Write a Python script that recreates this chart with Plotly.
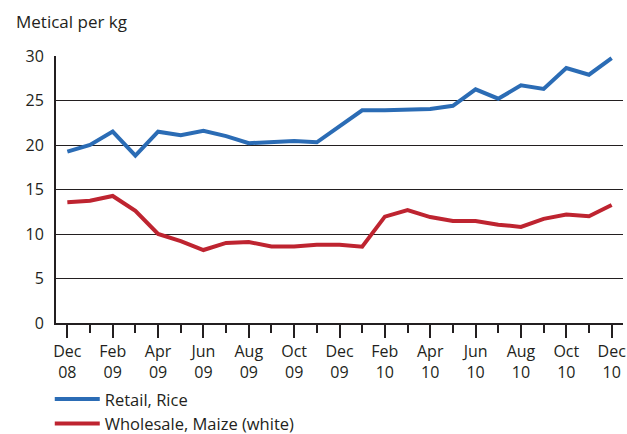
import plotly.graph_objects as go

months = ["Dec 08", "Jan 09", "Feb 09", "Mar 09", "Apr 09", "May 09", "Jun 09",
          "Jul 09", "Aug 09", "Sep 09", "Oct 09", "Nov 09", "Dec 09", "Jan 10",
          "Feb 10", "Mar 10", "Apr 10", "May 10", "Jun 10", "Jul 10", "Aug 10",
          "Sep 10", "Oct 10", "Nov 10", "Dec 10"]

rice_retail = [19.25, 20.0, 21.5, 18.8, 21.5, 21.1, 21.6, 21.0, 20.2, 20.3, 20.45,
               20.3, 22.1, 23.9, 23.9, 24.0, 24.05, 24.4, 26.25, 25.2, 26.7, 26.3,
               28.65, 27.9, 29.75]

maize_wholesale = [13.56, 13.74, 14.27, 12.6, 10.0, 9.2, 8.2, 9.0, 9.1, 8.6, 8.6,
                   8.8, 8.8, 8.58, 11.95, 12.7, 11.9, 11.46, 11.46, 11.05, 10.8,
                   11.7, 12.2, 12.0, 13.26]

y_ticks = [0, 5, 10, 15, 20, 25, 30]

x_idx = list(range(len(months)))
major_idx = x_idx[::2]
major_text = [months[i].replace(" ", "<br>") for i in major_idx]

FONT = "Open Sans"
INK = "#231F20"
fig = go.Figure()
fig.add_trace(go.Scatter(x=x_idx, y=rice_retail, mode="lines", name="Retail, Rice",
                         line=dict(color="#2B6CB5", width=4)))
fig.add_trace(go.Scatter(x=x_idx, y=maize_wholesale, mode="lines",
                         name="Wholesale, Maize (white)",
                         line=dict(color="#BE2430", width=4)))

fig.update_layout(
    width=627, height=434,
    margin=dict(l=56, r=4, t=56, b=111, autoexpand=False),
    paper_bgcolor="white", plot_bgcolor="white",
    font=dict(family=FONT, size=16, color=INK),
    showlegend=True,
    legend=dict(x=-0.011, y=-0.2205, xanchor="left", yanchor="top",
                orientation="v", font=dict(size=16.5), itemwidth=45,
                bgcolor="rgba(0,0,0,0)"),
    annotations=[dict(text="Metical per kg", xref="paper", yref="paper",
                      x=-0.074, y=1.13, xanchor="left", yanchor="middle",
                      showarrow=False, font=dict(size=17))],
)
fig.update_xaxes(
    range=[-0.5, 24.5], tickmode="array", tickvals=major_idx, ticktext=major_text,
    ticks="outside", ticklen=13, tickwidth=2, tickcolor=INK,
    showline=True, linecolor=INK, linewidth=2, showgrid=False, zeroline=False,
    automargin=False,
    minor=dict(dtick=1, tick0=0, ticks="outside", ticklen=8, tickwidth=2,
               tickcolor=INK, showgrid=False),
)
fig.update_yaxes(
    range=[0, 30], tickmode="array", tickvals=y_ticks,
    showline=True, linecolor=INK, linewidth=2, mirror=False, automargin=False,
    showgrid=True, gridcolor=INK, gridwidth=1.2, zeroline=False,
    ticks="", ticklabelstandoff=7,
)
fig.write_html("out.html",
               config={"displayModeBar": False},
               post_script="document.body.style.margin='0';"
                           "document.body.style.overflow='hidden';")
